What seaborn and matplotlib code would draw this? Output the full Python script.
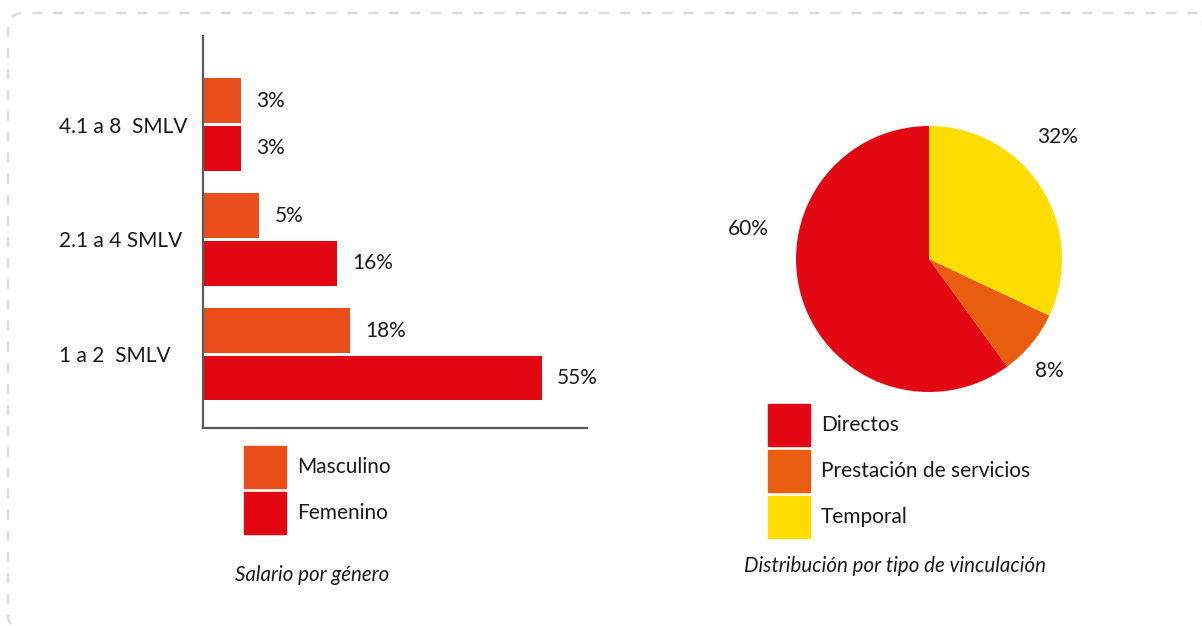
import numpy as np
import pandas as pd
import matplotlib
matplotlib.use("Agg")
import matplotlib.pyplot as plt
import seaborn as sns
from matplotlib.patches import FancyBboxPatch, Patch

# datos
rangos = ["4.1 a 8  SMLV", "2.1 a 4 SMLV", "1 a 2  SMLV"]
generos = ["Masculino", "Femenino"]
masculino = [3, 5, 18]
femenino = [3, 16, 55]

vinculacion = ["Directos", "Prestación de servicios", "Temporal"]
vinc_pct = [60, 8, 32]

# colores
naranja = "#E94E1B"
rojo = "#E30613"
naranja_pie = "#E85D0E"
amarillo = "#FFDD00"

sns.set_theme(style="white")
plt.rcParams["font.family"] = ["Lato", "DejaVu Sans"]
FS = 15

W, H = 1202, 626
fig = plt.figure(figsize=(W / 100, H / 100), dpi=100)
fig.patch.set_facecolor("white")


def box(x0, y0, x1, y1):
    # pixel box (origin top-left) -> figure fraction rect
    return [x0 / W, 1 - y1 / H, (x1 - x0) / W, (y1 - y0) / H]


# marco punteado redondeado (en pixeles)
marco = FancyBboxPatch((8, H - 630), 1207, 617,
                       boxstyle="round,pad=0,rounding_size=16",
                       transform=None, facecolor="none",
                       edgecolor="#dddddd", linewidth=1.8,
                       linestyle=(0, (4, 4.4)))
fig.add_artist(marco)

# ---- barras: salario por genero
df = pd.DataFrame({
    "rango": rangos * 2,
    "genero": [generos[0]] * len(rangos) + [generos[1]] * len(rangos),
    "pct": masculino + femenino,
})

ax = fig.add_axes(box(203, 36, 587, 428))
sns.barplot(data=df, y="rango", x="pct", hue="genero", order=rangos,
            hue_order=generos, palette=[naranja, rojo], orient="h",
            width=0.83, gap=0.07, saturation=1, errorbar=None,
            linewidth=0, legend=False, ax=ax)

# escala no lineal (las barras del original no son proporcionales)
p = 0.75
ax.set_xscale("function", functions=(lambda x: np.power(np.clip(x, 0, None), p),
                                     lambda x: np.power(np.clip(x, 0, None), 1 / p)))
ax.set_xlim(0, 65)
ax.set_ylim(2.64, -0.77)

for cont in ax.containers:
    ax.bar_label(cont, fmt="{:.0f}%", padding=11, fontsize=FS, color="#1a1a1a")

ax.set_xlabel("")
ax.set_ylabel("")
ax.set_xticks([])
ax.tick_params(axis="y", length=0, pad=104, labelsize=FS, labelcolor="#1a1a1a")
for lbl in ax.get_yticklabels():
    lbl.set_ha("left")
sns.despine(ax=ax)
for s in ["left", "bottom"]:
    ax.spines[s].set_color("#5a5a5a")
    ax.spines[s].set_linewidth(1.6)

fs_px = FS * 100 / 72
hl = 42 / fs_px
hh = (42 / fs_px - 0.35 * 0.7) / 0.65
leg_kw = dict(loc="upper left", frameon=False, borderpad=0, borderaxespad=0,
              handlelength=hl, handleheight=hh, labelspacing=4 / fs_px,
              handletextpad=11 / fs_px, fontsize=FS, labelcolor="#1a1a1a")

fig.legend([Patch(color=naranja), Patch(color=rojo)], generos,
           bbox_to_anchor=(244 / W, 1 - 446 / H), **leg_kw)

fig.text(312 / W, 1 - 575 / H, "Salario por género", style="italic",
         ha="center", va="center", fontsize=14.8, color="#1a1a1a")

# ---- torta: tipo de vinculacion
ax2 = fig.add_axes(box(796, 126, 1062, 392))
colores_pie = [rojo, naranja_pie, amarillo]
wedges, _ = ax2.pie(vinc_pct, colors=colores_pie, startangle=90,
                    counterclock=True, wedgeprops=dict(linewidth=0))
ax2.set_xlim(-1, 1)
ax2.set_ylim(-1, 1)
ax2.axis("off")

# posicion de etiquetas (angulo, radio)
pos_etq = [(170.6, 1.38), (-43.0, 1.24), (43.6, 1.33)]
for val, (ang, r) in zip(vinc_pct, pos_etq):
    a = np.deg2rad(ang)
    ax2.text(r * np.cos(a), r * np.sin(a), f"{val}%", ha="center", va="center",
             fontsize=FS, color="#1a1a1a", clip_on=False)

fig.legend([Patch(color=c) for c in colores_pie], vinculacion,
           bbox_to_anchor=(768 / W, 1 - 404 / H), **leg_kw)

fig.text(895 / W, 1 - 566 / H, "Distribución por tipo de vinculación",
         style="italic", ha="center", va="center", fontsize=14.8,
         color="#1a1a1a")

fig.savefig("out.png", dpi=100)
